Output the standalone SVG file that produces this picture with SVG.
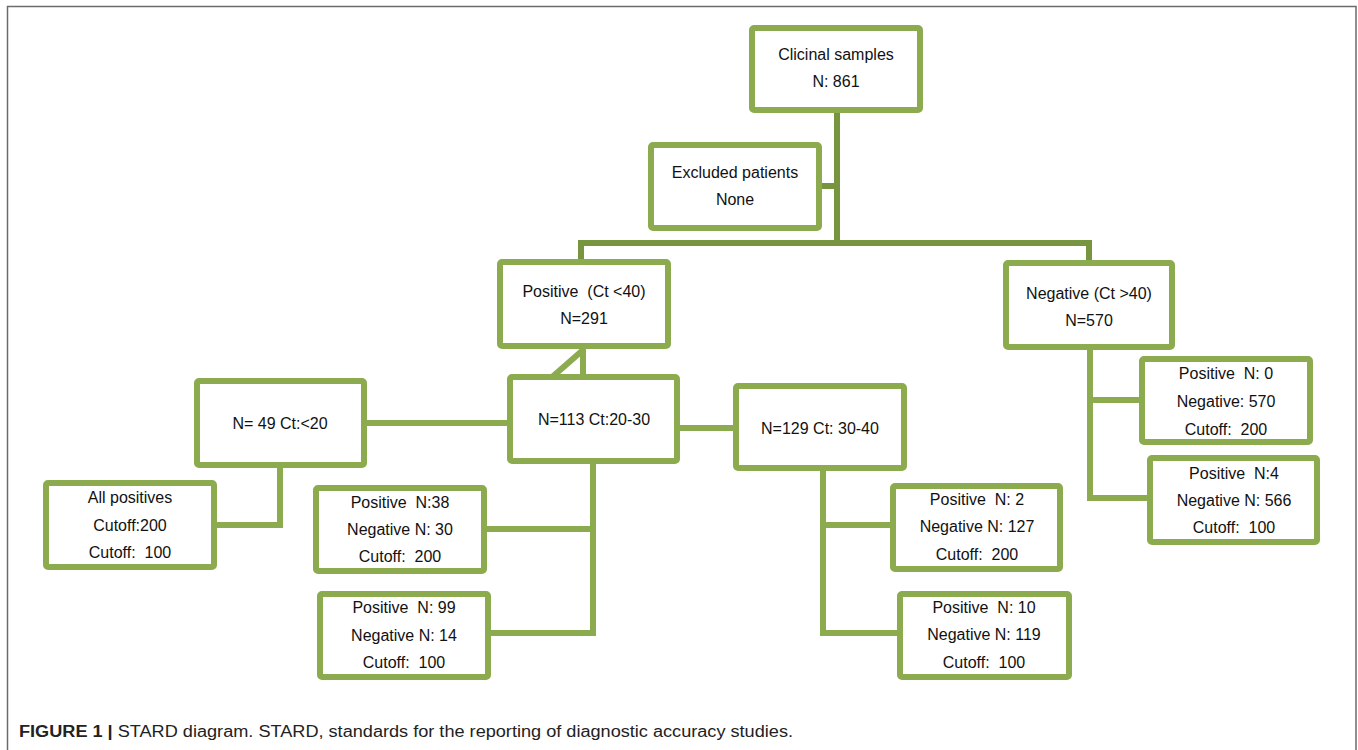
<svg xmlns="http://www.w3.org/2000/svg" width="1358" height="750" viewBox="0 0 1358 750">
<style>
.box{fill:#fff;stroke:#8CAB4F;stroke-width:6}
.t{font-family:"Liberation Sans",Arial,sans-serif;font-size:16px;fill:#111;text-anchor:middle;white-space:pre}
.c{fill:none;stroke:#8CAB4F;stroke-width:6}
.d{fill:none;stroke:#77953F;stroke-width:6}
.cap{font-family:"Liberation Sans",Arial,sans-serif;font-size:16px;fill:#222}
</style>
<rect x="0" y="0" width="1358" height="750" fill="#fff"/>
<path d="M7.5 750 V6.5 H1356 V750" fill="none" stroke="#6b6b6b" stroke-width="1.5"/>
<g id="connectors">
<path class="d" d="M837 110 V246"/>
<path class="d" d="M819 186 H837"/>
<path class="d" d="M581 262 V243 H1089 V263"/>
<path class="c" d="M583 346 V377"/>
<path class="c" d="M583 350 L551 378"/>
<path class="c" d="M364 423 H510"/>
<path class="c" d="M280 465 V525 H214"/>
<path class="c" d="M593 461 V633 H488"/>
<path class="c" d="M593 529 H484"/>
<path class="c" d="M677 428 H736"/>
<path class="c" d="M823 468 V633 H900"/>
<path class="c" d="M823 525 H893"/>
<path class="c" d="M1090 347 V498 H1150"/>
<path class="c" d="M1090 400 H1142"/>
</g>
<g id="clinical">
<rect class="box" x="752" y="28" width="168" height="82" rx="2"/>
<text class="t" x="836" y="60">Clicinal samples</text>
<text class="t" x="836" y="87">N: 861</text>
</g>
<g id="excluded">
<rect class="box" x="651" y="145" width="168" height="83" rx="2"/>
<text class="t" x="735" y="178">Excluded patients</text>
<text class="t" x="735" y="205">None</text>
</g>
<g id="positive">
<rect class="box" x="500" y="262" width="168" height="84" rx="2"/>
<text class="t" x="584" y="297">Positive  (Ct &lt;40)</text>
<text class="t" x="584" y="324">N=291</text>
</g>
<g id="negative">
<rect class="box" x="1006" y="263" width="166" height="84" rx="2"/>
<text class="t" x="1089" y="299">Negative (Ct &gt;40)</text>
<text class="t" x="1089" y="326">N=570</text>
</g>
<g id="n49">
<rect class="box" x="197" y="381" width="167" height="84" rx="2"/>
<text class="t" x="280" y="429">N= 49 Ct:&lt;20</text>
</g>
<g id="n113">
<rect class="box" x="510" y="377" width="167" height="84" rx="2"/>
<text class="t" x="594" y="425">N=113 Ct:20-30</text>
</g>
<g id="n129">
<rect class="box" x="736" y="386" width="168" height="82" rx="2"/>
<text class="t" x="820" y="434">N=129 Ct: 30-40</text>
</g>
<g id="allpos">
<rect class="box" x="46" y="483" width="168" height="84" rx="2"/>
<text class="t" x="130" y="503">All positives</text>
<text class="t" x="130" y="531">Cutoff:200</text>
<text class="t" x="130" y="558">Cutoff:  100</text>
</g>
<g id="n38">
<rect class="box" x="316" y="488" width="168" height="83" rx="2"/>
<text class="t" x="400" y="508">Positive  N:38</text>
<text class="t" x="400" y="535">Negative N: 30</text>
<text class="t" x="400" y="562">Cutoff:  200</text>
</g>
<g id="n99">
<rect class="box" x="320" y="594" width="168" height="83" rx="2"/>
<text class="t" x="404" y="613">Positive  N: 99</text>
<text class="t" x="404" y="641">Negative N: 14</text>
<text class="t" x="404" y="668">Cutoff:  100</text>
</g>
<g id="n2">
<rect class="box" x="893" y="486" width="167" height="83" rx="2"/>
<text class="t" x="977" y="505">Positive  N: 2</text>
<text class="t" x="977" y="532">Negative N: 127</text>
<text class="t" x="977" y="560">Cutoff:  200</text>
</g>
<g id="n10">
<rect class="box" x="900" y="594" width="169" height="83" rx="2"/>
<text class="t" x="984" y="613">Positive  N: 10</text>
<text class="t" x="984" y="640">Negative N: 119</text>
<text class="t" x="984" y="668">Cutoff:  100</text>
</g>
<g id="n0">
<rect class="box" x="1142" y="359" width="168" height="83" rx="2"/>
<text class="t" x="1226" y="379">Positive  N: 0</text>
<text class="t" x="1226" y="407">Negative: 570</text>
<text class="t" x="1226" y="435">Cutoff:  200</text>
</g>
<g id="n4">
<rect class="box" x="1150" y="458" width="167" height="84" rx="2"/>
<text class="t" x="1234" y="479">Positive  N:4</text>
<text class="t" x="1234" y="506">Negative N: 566</text>
<text class="t" x="1234" y="533">Cutoff:  100</text>
</g>
<text class="cap" x="19" y="737" textLength="774" lengthAdjust="spacingAndGlyphs"><tspan font-weight="bold">FIGURE 1 | </tspan>STARD diagram. STARD, standards for the reporting of diagnostic accuracy studies.</text>
</svg>
